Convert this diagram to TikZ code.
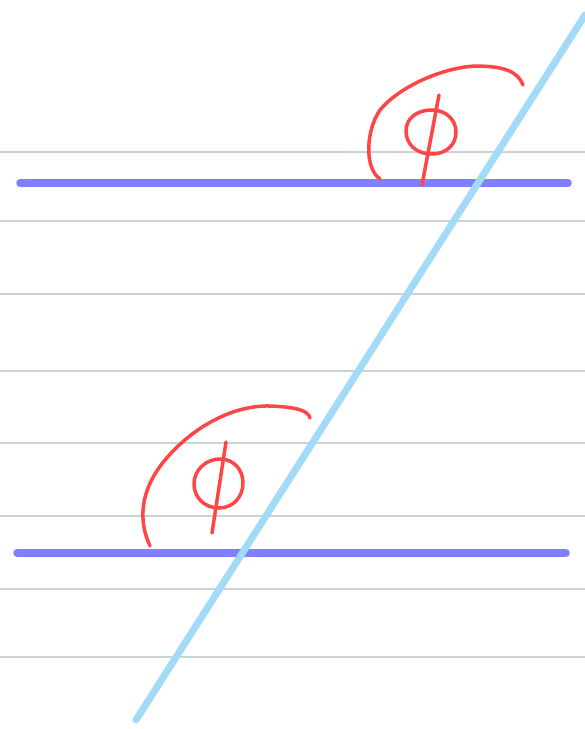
\documentclass[tikz,border=0pt]{standalone}
\usepackage{tikz}
\definecolor{ruleline}{HTML}{C9D3D6}
\definecolor{parblue}{HTML}{8080FF}
\definecolor{skyline}{HTML}{A3DAF8}
\definecolor{inkred}{HTML}{FF4545}

\begin{document}
\begin{tikzpicture}[x=1pt,y=-1pt,
  rule/.style={ruleline,line width=1.2pt},
  parline/.style={parblue,line width=7.5pt,line cap=round},
  transversal/.style={skyline,line width=7pt,line cap=round},
  ink/.style={inkred,line width=3.5pt,line cap=round,line join=round}]
\useasboundingbox (0,0) rectangle (585,729);
\fill[white] (0,0) rectangle (585,729);
% ruled paper
\foreach \y in {152,221,294,371,443,516,589,657}
  \draw[rule] (0,\y) -- (585,\y);
% two parallel lines and the transversal
\draw[parline] (20,183) -- (568,183);
\draw[parline] (17,553) -- (566,553);
\draw[transversal] (136,720) -- (585,15);
% upper angle mark
\draw[ink] (380,179) .. controls (364,168) and (366,130) .. (380,110)
  .. controls (398,88) and (440,68) .. (475,66)
  .. controls (505,66) and (518,72) .. (523,85);
\draw[ink] (432,110) .. controls (446,110) and (456,120) .. (456,132)
  .. controls (456,145) and (446,154) .. (432,154)
  .. controls (416,154) and (406,144) .. (406,131)
  .. controls (406,119) and (416,110) .. (432,110) -- cycle;
\draw[ink] (439,95) -- (422,185);
% lower angle mark
\draw[ink] (150,546) .. controls (138,520) and (140,490) .. (165,460)
  .. controls (190,430) and (230,405) .. (270,406)
  .. controls (295,407) and (308,410) .. (310,418);
\draw[ink] (220,459) .. controls (234,459) and (243,470) .. (243,483)
  .. controls (243,497) and (233,508) .. (219,508)
  .. controls (204,508) and (194,497) .. (194,484)
  .. controls (194,470) and (206,459) .. (220,459) -- cycle;
\draw[ink] (226,442) -- (212,533);
\end{tikzpicture}
\end{document}
